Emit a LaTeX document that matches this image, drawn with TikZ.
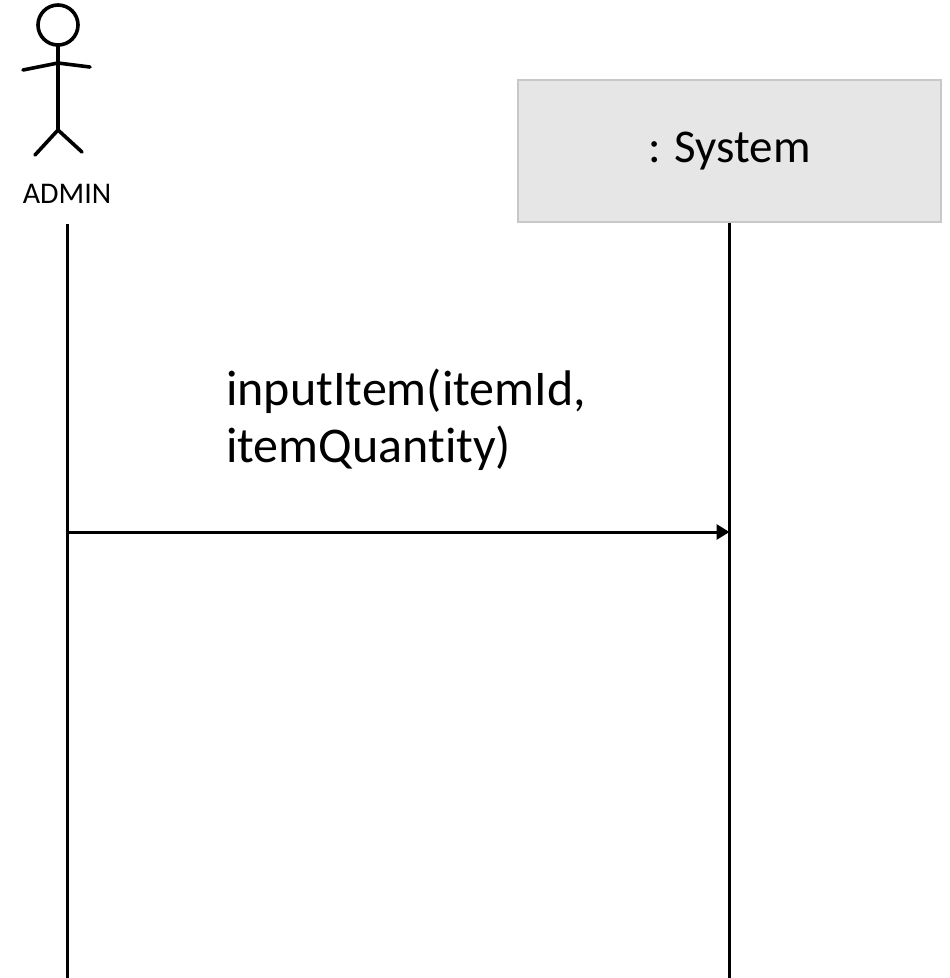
\documentclass[tikz,border=0pt]{standalone}
\usepackage{fontspec}
\setmainfont{Carlito}[Ligatures=NoCommon]
\usetikzlibrary{arrows.meta}
\definecolor{boxfill}{HTML}{E6E6E6}
\definecolor{boxline}{HTML}{C8C8C8}
\tikzset{
  lifeline/.style={line width=3pt, black},
  stick/.style={line width=3.6pt, black, line cap=round, line join=round},
  objbox/.style={draw=boxline, fill=boxfill, line width=1.6pt, minimum width=423pt, minimum height=142pt, inner sep=0pt, font=\fontsize{47}{56}\selectfont},
  msg/.style={line width=3pt, -{Triangle[length=13pt,width=15pt]}},
  msglabel/.style={anchor=base west, align=left, inner sep=0pt, font=\fontsize{50}{57}\selectfont},
  actorlabel/.style={anchor=base, inner sep=0pt, font=\fontsize{30}{36}\selectfont}
}
\begin{document}
\begin{tikzpicture}[x=1pt,y=-1pt]
\useasboundingbox (0,0) rectangle (950,978);
% actor
\draw[stick] (58,25) circle[radius=20];
\draw[stick] (58,45) -- (58,130);
\draw[stick] (23,70) -- (58,63) -- (90,67);
\draw[stick] (35,155) -- (58,130) -- (82,152);
\node[actorlabel] (admin) at (67,203) {ADMIN};
% system object
\node[objbox] (sys) at (729.5,151) {: System};
% lifelines
\coordinate (adminTop) at (67,224);
\coordinate (adminBot) at (67,978);
\coordinate (sysBot) at (sys.south |- adminBot);
\draw[lifeline] (adminTop) -- (adminBot);
\draw[lifeline] (sys.south) -- (sysBot);
% message
\coordinate (msgStart) at (67,532);
\coordinate (msgEnd) at (sys.south |- msgStart);
\draw[msg] (msgStart) -- (msgEnd);
\node[msglabel] (lbl) at (226,462) {inputItem(itemId,\\itemQuantity)};
\end{tikzpicture}
\end{document}
